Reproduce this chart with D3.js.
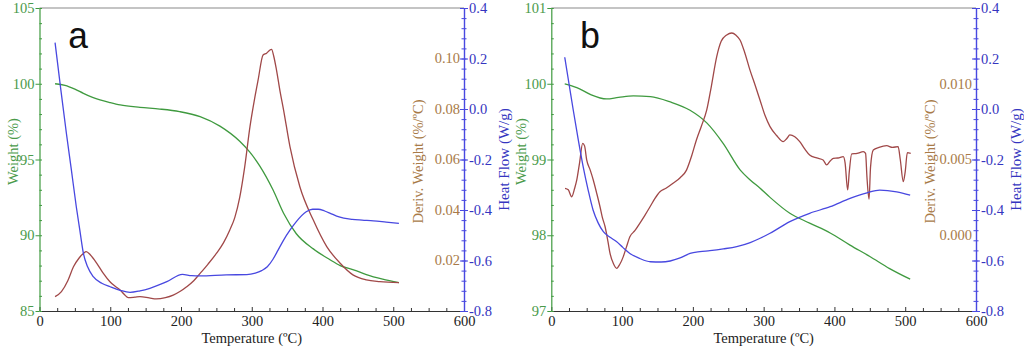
<!DOCTYPE html>
<html><head><meta charset="utf-8">
<script src="https://cdn.jsdelivr.net/npm/d3@7/dist/d3.min.js"></script>
<style>
html,body{margin:0;padding:0;background:#fff;}
svg{display:block;}
</style>
</head><body>
<svg id="chart" width="1024" height="350"></svg>
<script>
// ---------- DATA ----------
const xTicks = [0,100,200,300,400,500,600];
const heatTicks = [0.4,0.2,0.0,-0.2,-0.4,-0.6,-0.8];
const weightTicksA = [85,90,95,100,105];
const weightTicksB = [97,98,99,100,101];
const derivTicksA = [0.02,0.04,0.06,0.08,0.10];
const derivTicksB = [0.000,0.005,0.010];

const weightA = [[22,100],[36,99.9],[50,99.65],[62,99.37],[75,99.1],[85.5,98.93],[100,98.75],[114,98.6],[142,98.44],[170,98.33],[198,98.16],[227,97.83],[255,97.2],[283,96.2],[297,95.5],[311,94.6],[330,93],[345,91.45],[363,90.1],[387,89.1],[410,88.4],[425,88.0],[445,87.7],[462,87.4],[485,87.1],[508,86.87]];
const heatA = [[22,0.263],[30,0.08],[38,-0.096],[45,-0.24],[52,-0.387],[57,-0.48],[62,-0.571],[68,-0.625],[76,-0.664],[88,-0.69],[100,-0.704],[114,-0.718],[128,-0.726],[142,-0.72],[156,-0.71],[180,-0.684],[202,-0.655],[215,-0.66],[227,-0.661],[264,-0.657],[293,-0.656],[305,-0.65],[314,-0.64],[322,-0.625],[330,-0.595],[337,-0.56],[345,-0.519],[354,-0.48],[363,-0.446],[377,-0.407],[386,-0.397],[394,-0.397],[403,-0.404],[411,-0.413],[420,-0.424],[430,-0.432],[442,-0.437],[456,-0.44],[472,-0.443],[490,-0.448],[508,-0.453]];
const derivA = [[22,0.0057],[31,0.0077],[40,0.012],[48,0.0175],[56,0.021],[62,0.0228],[66,0.0235],[72,0.0222],[81,0.0189],[90,0.015],[99.6,0.0116],[107,0.0098],[114,0.0083],[120,0.0065],[125.5,0.0053],[135,0.0055],[142,0.0057],[155,0.0052],[165,0.0048],[178,0.0053],[189,0.0063],[199,0.0078],[208,0.0096],[218,0.012],[227,0.0149],[238,0.0185],[250,0.0228],[260,0.027],[269,0.0321],[276,0.037],[283,0.045],[290,0.057],[297.5,0.073],[304,0.084],[309,0.0915],[316,0.1014],[321,0.1021],[325,0.1032],[328,0.1036],[331,0.101],[335,0.0954],[340,0.087],[345,0.0796],[354,0.0651],[368,0.0492],[387,0.036],[406,0.0255],[425,0.0189],[443,0.0143],[462,0.0123],[481,0.0116],[508,0.0112]];

const weightB = [[19,100.0],[36,99.95],[55,99.86],[78,99.8],[95,99.82],[116,99.84],[140,99.83],[168,99.76],[196,99.65],[220,99.48],[243,99.21],[267,98.86],[281,98.73],[295,98.62],[309,98.5],[337,98.29],[365,98.16],[394,98.03],[422,97.87],[450,97.72],[478,97.56],[507,97.42]];
const heatB = [[19,0.205],[25,0.1],[31,-0.004],[38,-0.12],[45,-0.228],[52,-0.32],[59,-0.4],[66,-0.45],[73.5,-0.486],[83,-0.508],[92,-0.525],[101,-0.548],[111,-0.572],[125,-0.592],[140,-0.605],[155,-0.606],[168,-0.602],[182,-0.59],[196,-0.572],[210,-0.565],[224,-0.561],[243,-0.554],[262,-0.545],[281,-0.529],[295,-0.512],[309,-0.492],[337,-0.446],[365,-0.413],[394,-0.387],[422,-0.354],[446,-0.332],[464,-0.321],[488,-0.328],[507,-0.341]];
const derivB = [[19.4,0.0031],[24,0.003],[28.8,0.00254],[33,0.0031],[36,0.00365],[40,0.0048],[44.3,0.00607],[47,0.0059],[50,0.00497],[55,0.0043],[59.3,0.00365],[64,0.0028],[68.8,0.00188],[72,0.0012],[76,0.00056],[80,-0.0004],[83,-0.0012],[88,-0.0019],[92.4,-0.00218],[97,-0.0019],[101.7,-0.00141],[106,-0.0008],[111,-0.0001],[118,0.0003],[125,0.00079],[132,0.0013],[139.5,0.00188],[146,0.0024],[153.5,0.00287],[162,0.0031],[172,0.00343],[182,0.0038],[191,0.0043],[198,0.0052],[205,0.00629],[212,0.0072],[219.6,0.00827],[226,0.0098],[233.7,0.01179],[240,0.0128],[247.8,0.01322],[254.9,0.01335],[261,0.0132],[266.6,0.01289],[273,0.0121],[280.7,0.0109],[288,0.0099],[294.8,0.00893],[302,0.0079],[309,0.00717],[318,0.0066],[327.7,0.00618],[333,0.0064],[337,0.00662],[344,0.0065],[351,0.00618],[358,0.0057],[365,0.0053],[375,0.0051],[384,0.00497],[389,0.00464],[394,0.0049],[398.4,0.00508],[405,0.0051],[412.5,0.00519],[415,0.0048],[418.7,0.00299],[421,0.0042],[424.4,0.00537],[432,0.0054],[440.8,0.00552],[444,0.0054],[446,0.0038],[448.9,0.00238],[451,0.0045],[454.9,0.00563],[463,0.0058],[473.8,0.00591],[482,0.0058],[490,0.00585],[493,0.005],[497.3,0.00354],[500,0.0042],[503,0.00545],[507.8,0.00541]];

// ---------- STYLE ----------
const SERIF = "'Liberation Serif', Tinos, 'Times New Roman', Times, 'DejaVu Serif', 'Noto Serif', serif";
const MONO = "'Liberation Mono', Cousine, 'Courier New', 'DejaVu Sans Mono', monospace";
const GREEN = "#3f9a3f", GREEN_TXT = "#4a9a4a";
const BLUE = "#4848e0", BLUE_TXT = "#3535c0";
const RED = "#a04848", BROWN_TXT = "#a87a48";
const FS = 14.5;

const svg = d3.select("#chart");
svg.append("rect").attr("width",1024).attr("height",350).attr("fill","#fff");

function styleText(sel, size, fill){
  sel.style("font-family", SERIF).style("font-size", size+"px").attr("fill", fill);
}

function panel(o){
  const g = svg.append("g");
  const x = d3.scaleLinear().domain([0,600]).range([o.x0,o.x1]);
  const yW = d3.scaleLinear().domain(o.wDom).range([o.yB,o.yT]);
  const yH = d3.scaleLinear().domain([-0.8,0.4]).range([o.yB,o.yT]);
  const yD = d3.scaleLinear().domain(o.dDom).range([o.yB,o.yT]);

  // top frame
  g.append("line").attr("x1",o.x0).attr("x2",o.x1).attr("y1",o.yT).attr("y2",o.yT)
   .attr("stroke","#8a8a8a").attr("stroke-width",1.2);

  // bottom axis
  const minorX = d3.range(0,601,25).filter(v=>v%100!==0);
  g.append("g").attr("transform",`translate(0,${o.yB})`)
   .call(d3.axisBottom(x).tickValues(minorX).tickSize(-3).tickFormat(""))
   .call(a=>a.select(".domain").remove())
   .call(a=>a.selectAll("line").attr("stroke","#333"));
  const xa = g.append("g").attr("transform",`translate(0,${o.yB})`)
   .call(d3.axisBottom(x).tickValues(xTicks).tickSize(-4).tickPadding(5).tickSizeOuter(0).tickFormat(d3.format("d")));
  xa.select(".domain").attr("stroke","#333").attr("stroke-width",1.2);
  xa.selectAll("line").attr("stroke","#333");
  styleText(xa.selectAll("text"), FS, "#222");

  // left weight axis
  const wStep = (o.wDom[1]-o.wDom[0])/20;
  const minorW = d3.range(0,21).map(i=>o.wDom[0]+i*wStep);
  g.append("g").attr("transform",`translate(${o.x0},0)`)
   .call(d3.axisLeft(yW).tickValues(minorW).tickSize(-2.5).tickFormat(""))
   .call(a=>a.select(".domain").remove())
   .call(a=>a.selectAll("line").attr("stroke",GREEN));
  const wa = g.append("g").attr("transform",`translate(${o.x0},0)`)
   .call(d3.axisLeft(yW).tickValues(o.wTicks).tickSize(4).tickPadding(1).tickSizeOuter(0).tickFormat(d3.format("d")));
  wa.select(".domain").attr("stroke",GREEN).attr("stroke-width",1.2);
  wa.selectAll("line").attr("stroke",GREEN);
  styleText(wa.selectAll("text"), FS, GREEN_TXT);

  // right heat-flow axis
  const minorH = d3.range(0,31).map(i=>-0.8+i*0.04);
  g.append("g").attr("transform",`translate(${o.x1},0)`)
   .call(d3.axisRight(yH).tickValues(minorH).tickSize(2.5).tickFormat(""))
   .call(a=>a.select(".domain").remove())
   .call(a=>a.selectAll("line").attr("stroke",BLUE).attr("x1",-2.5));
  const ha = g.append("g").attr("transform",`translate(${o.x1},0)`)
   .call(d3.axisRight(yH).tickValues(heatTicks).tickSize(4).tickPadding(1).tickSizeOuter(0)
     .tickFormat(v=>v.toFixed(1)));
  ha.select(".domain").attr("stroke",BLUE).attr("stroke-width",1.4);
  ha.selectAll("line").attr("stroke",BLUE).attr("x1",-4);
  styleText(ha.selectAll("text"), FS, BLUE_TXT);

  // deriv labels (left of blue axis)
  const dl = g.append("g").selectAll("text").data(o.dTicks).join("text")
   .attr("x",o.x1-4).attr("y",d=>yD(d)).attr("dy","0.33em")
   .attr("text-anchor","end")
   .text(d=>d.toFixed(o.dDigits));
  styleText(dl, FS, BROWN_TXT);

  // curves
  const lineW = d3.line().x(d=>x(d[0])).y(d=>yW(d[1])).curve(d3.curveMonotoneX);
  const lineH = d3.line().x(d=>x(d[0])).y(d=>yH(d[1])).curve(d3.curveMonotoneX);
  const lineD = d3.line().x(d=>x(d[0])).y(d=>yD(d[1])).curve(d3.curveMonotoneX);
  g.append("path").datum(o.weight).attr("d",lineW).attr("fill","none").attr("stroke",GREEN).attr("stroke-width",1.3);
  g.append("path").datum(o.deriv).attr("d",lineD).attr("fill","none").attr("stroke",RED).attr("stroke-width",1.3);
  g.append("path").datum(o.heat).attr("d",lineH).attr("fill","none").attr("stroke",BLUE).attr("stroke-width",1.3);

  // titles
  const mid = (o.yT+o.yB)/2;
  styleText(g.append("text").attr("transform",`translate(${o.wLabX},${mid-8}) rotate(-90)`)
   .attr("text-anchor","middle").attr("dy","0.35em").text("Weight (%)"), FS, GREEN_TXT);
  styleText(g.append("text").attr("transform",`translate(${o.x1-46},${mid+2}) rotate(-90)`)
   .attr("text-anchor","middle").attr("dy","0.35em").text("Deriv. Weight (%/ºC)"), FS, BROWN_TXT);
  styleText(g.append("text").attr("transform",`translate(${o.x1+40},${mid}) rotate(-90)`)
   .attr("text-anchor","middle").attr("dy","0.35em").text("Heat Flow (W/g)"), 15, BLUE_TXT);
  styleText(g.append("text").attr("x",(o.x0+o.x1)/2).attr("y",343).attr("text-anchor","middle")
   .text("Temperature (ºC)"), FS, "#222");
  g.append("text").attr("x",o.x0+28).attr("y",48).style("font-family",MONO)
   .style("font-size","36px").attr("fill","#111").text(o.letter);
}

panel({x0:39.5,x1:464,yT:8,yB:311,wDom:[85,105],wTicks:weightTicksA,dDom:[0,0.12],dTicks:derivTicksA,dDigits:2,
  weight:weightA,heat:heatA,deriv:derivA,wLabX:13,letter:"a"});
panel({x0:551.3,x1:976,yT:8,yB:311,wDom:[97,101],wTicks:weightTicksB,dDom:[-0.005,0.015],dTicks:derivTicksB,dDigits:3,
  weight:weightB,heat:heatB,deriv:derivB,wLabX:521,letter:"b"});
</script>
</body></html>
